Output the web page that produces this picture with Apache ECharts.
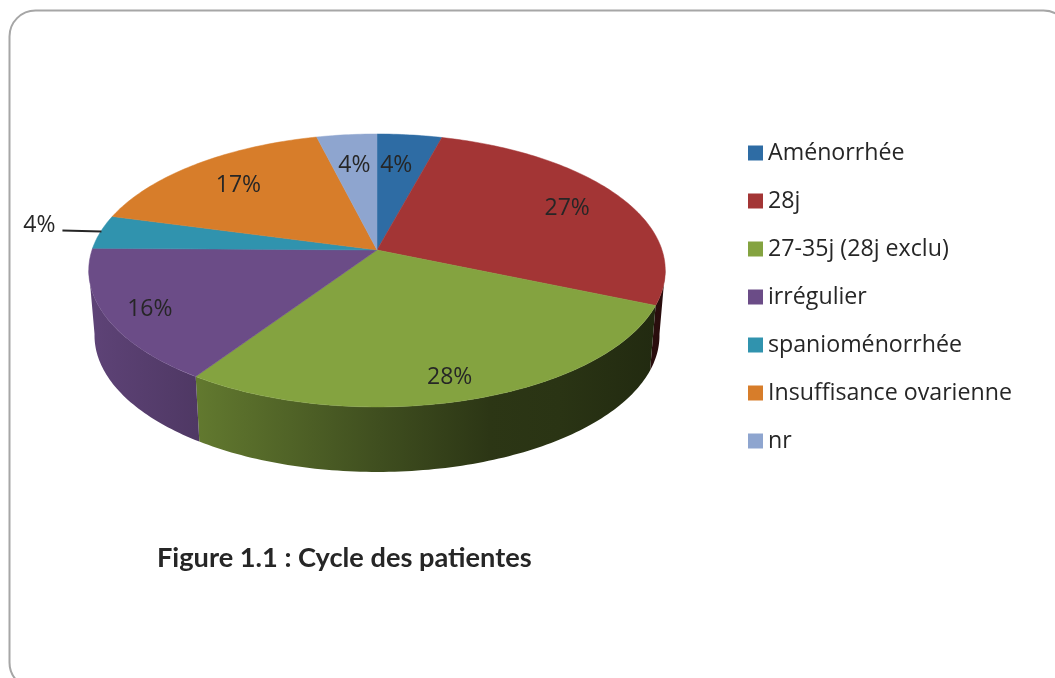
<!DOCTYPE html>
<html>
<head>
<meta charset="utf-8">
<title>Cycle des patientes</title>
<script src="https://cdn.jsdelivr.net/npm/echarts@6/dist/echarts.min.js"></script>
<style>
  html, body { margin: 0; padding: 0; background: #fff; }
  #main { width: 1055px; height: 678px; }
</style>
</head>
<body>
<div id="main"></div>
<script>
var categories = ['Aménorrhée', '28j', '27-35j (28j exclu)', 'irrégulier', 'spanioménorrhée', 'Insuffisance ovarienne', 'nr'];
var values = [4.2, 27.2, 28.0, 15.8, 4.0, 16.9, 3.9];
var colors = ['#2e6ca4', '#a33535', '#84a340', '#6b4c87', '#3093ae', '#d77d2a', '#8ea5cf'];
// where the label sits along the slice's middle angle, 1 = rim, 0 = outside with a leader line
var labelRadius = [0.72, 0.78, 0.855, 0.85, 0, 0.75, 0.72];
// small turn in degrees away from the middle angle
var labelTurn = [-1.6, 0, 1.4, -0.5, 0, 0, 0];

var font = '"Open Sans", "Noto Sans", sans-serif';
var textColor = '#262626';

// tilted disc, with a bit of perspective so the front looks bigger than the back
var cx = 377, cy = 250, R = 285, A = 133.4, k = 0.15;
var depth = 65, bottomScale = 0.98;
// wall only shows between the two silhouette angles
var wallFrom = 98, wallTo = 262;
// wall darkens from left to right
var shadeStops = [[89, 0.88], [197, 0.74], [380, 0.48], [490, 0.33], [560, 0.32], [665, 0.25]];

var total = values.reduce(function (a, b) { return a + b; }, 0);

function project(deg, r, bottom) {
  var t = deg * Math.PI / 180;
  var u = Math.sin(t) * r, v = -Math.cos(t) * r;
  var s = 1 / (1 - k * v);
  return [
    cx + R * u * s * (bottom ? bottomScale : 1),
    cy + A * v * s + (bottom ? depth : 0)
  ];
}

function arc(from, to, bottom) {
  var pts = [];
  var n = Math.max(1, Math.ceil(Math.abs(to - from)));
  for (var i = 0; i <= n; i++) {
    pts.push(project(from + (to - from) * i / n, 1, bottom));
  }
  return pts;
}

function shade(hex, f) {
  var n = parseInt(hex.slice(1), 16);
  var r = Math.round((n >> 16 & 255) * f);
  var g = Math.round((n >> 8 & 255) * f);
  var b = Math.round((n & 255) * f);
  return 'rgb(' + r + ',' + g + ',' + b + ')';
}

function wallFill(color) {
  var x0 = shadeStops[0][0], x1 = shadeStops[shadeStops.length - 1][0];
  return {
    type: 'linear', x: x0, y: 0, x2: x1, y2: 0, global: true,
    colorStops: shadeStops.map(function (s) {
      return { offset: (s[0] - x0) / (x1 - x0), color: shade(color, s[1]) };
    })
  };
}

function renderSlice(index) {
  var before = 0;
  for (var i = 0; i < index; i++) before += values[i];
  return function (params, api) {
    var start = before / total * 360;
    var end = (before + api.value(0)) / total * 360;
    var mid = (start + end) / 2;
    var children = [];

    var wa = Math.max(start, wallFrom), wb = Math.min(end, wallTo);
    if (wa < wb) {
      children.push({
        type: 'polygon', z2: 1,
        shape: { points: arc(wa, wb, false).concat(arc(wb, wa, true)) },
        style: { fill: wallFill(colors[index]) }
      });
    }

    children.push({
      type: 'polygon', z2: 5,
      shape: { points: [[cx, cy]].concat(arc(start, end, false)) },
      style: { fill: colors[index], stroke: colors[index], lineWidth: 0.5 }
    });

    var label = Math.round(api.value(0) / total * 100) + '%';
    var at;
    if (labelRadius[index] > 0) {
      at = project(mid + labelTurn[index], labelRadius[index], false);
    } else {
      var rim = project(mid, 1, false);
      at = [rim[0] - 61, rim[1] - 9];
      children.push({
        type: 'line', z2: 6,
        shape: { x1: rim[0] - 38, y1: rim[1] - 1.5, x2: rim[0] + 1, y2: rim[1] - 0.5 },
        style: { stroke: '#262626', lineWidth: 2 }
      });
    }
    children.push({
      type: 'text', z2: 10, x: at[0], y: at[1] + 2,
      style: { text: label, font: '23px ' + font, fill: textColor, align: 'center', verticalAlign: 'middle' }
    });

    return { type: 'group', children: children };
  };
}

var chart = echarts.init(document.getElementById('main'));
chart.setOption({
  animation: false,
  title: {
    text: 'Figure 1.1 : Cycle des patientes',
    left: 157, top: 545, padding: 0,
    textStyle: { fontFamily: 'Lato, sans-serif', fontWeight: 'bold', fontSize: 27.2, color: textColor }
  },
  legend: {
    orient: 'vertical', left: 748, top: 138,
    padding: 0, itemWidth: 15, itemHeight: 15, itemGap: 18,
    icon: 'rect', selectedMode: false,
    data: categories,
    textStyle: { fontFamily: font, fontSize: 23.2, color: textColor, lineHeight: 30 }
  },
  graphic: [{
    type: 'rect', silent: true,
    shape: { x: 9.5, y: 10.5, width: 1060, height: 678, r: 26 },
    style: { fill: 'none', stroke: '#a6a6a6', lineWidth: 2 }
  }],
  series: categories.map(function (name, i) {
    return {
      name: name,
      type: 'custom',
      coordinateSystem: 'none',
      silent: true,
      itemStyle: { color: colors[i] },
      data: [[values[i]]],
      renderItem: renderSlice(i)
    };
  })
});
</script>
</body>
</html>
